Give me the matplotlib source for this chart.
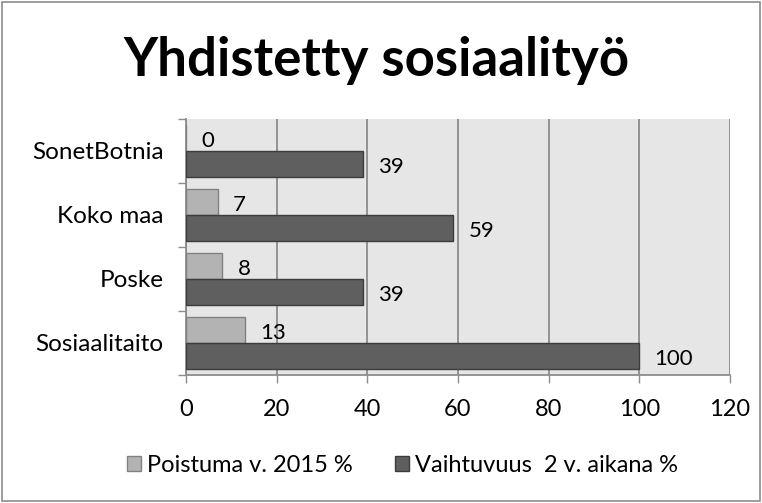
import matplotlib.pyplot as plt
import numpy as np
from matplotlib.patches import Rectangle

plt.rcParams['font.family'] = ['Lato', 'DejaVu Sans']

alueet = ['Sosiaalitaito', 'Poske', 'Koko maa', 'SonetBotnia']
poistuma = [13, 8, 7, 0]
vaihtuvuus = [100, 39, 59, 39]
x_ticks = [0, 20, 40, 60, 80, 100, 120]

fig = plt.figure(figsize=(7.62, 5.03), dpi=100)
ax = fig.add_axes([0.244, 0.2545, 0.714, 0.509])

y = np.arange(len(alueet))
h = 0.4
b1 = ax.barh(y + h/2, poistuma, height=h, color='#b3b3b3', edgecolor='#808080',
             linewidth=1, label='Poistuma v. 2015 %', zorder=3)
b2 = ax.barh(y - h/2, vaihtuvuus, height=h, color='#5f5f5f', edgecolor='#3c3c3c',
             linewidth=1, label='Vaihtuvuus  2 v. aikana %', zorder=3)

for bars, vals in ((b1, poistuma), (b2, vaihtuvuus)):
    for r, v in zip(bars, vals):
        ax.annotate(str(v), (r.get_width(), r.get_y() + r.get_height()/2),
                    xytext=(11, -2), textcoords='offset points',
                    va='center', ha='left', fontsize=16, zorder=4)

ax.set_xlim(0, 120)
ax.set_ylim(-0.5, len(alueet) - 0.5)
ax.set_facecolor('#e6e6e6')
ax.set_xticks(x_ticks)
ax.set_yticks(y)
ax.set_yticklabels(alueet)
ax.set_yticks(np.arange(len(alueet) + 1) - 0.5, minor=True)
ax.tick_params(axis='y', which='major', length=0, pad=16, labelsize=17.5)
ax.tick_params(axis='y', which='minor', length=6, color='#8c8c8c', width=1)
ax.tick_params(axis='x', length=6, color='#8c8c8c', width=1, pad=11, labelsize=17)
ax.grid(axis='x', color='#8c8c8c', linewidth=1.3, zorder=1)
ax.set_axisbelow(True)
for s in ['top', 'right']:
    ax.spines[s].set_visible(False)
for s in ['left', 'bottom']:
    ax.spines[s].set_color('#8c8c8c')
    ax.spines[s].set_linewidth(1.3)

fig.text(0.494, 0.88, 'Yhdistetty sosiaalityö', fontsize=38, fontweight='bold',
         ha='center', va='center')

fig.legend(handles=[b1, b2], loc='center', bbox_to_anchor=(0.528, 0.075), ncol=2,
           frameon=False, fontsize=17, handlelength=0.6, handleheight=0.6,
           handletextpad=0.25, columnspacing=1.8)

fig.patches.append(Rectangle((0.003, 0.004), 0.994, 0.992, transform=fig.transFigure,
                             fill=False, edgecolor='#8c8c8c', linewidth=1.2))

fig.savefig('out.png', dpi=100)
